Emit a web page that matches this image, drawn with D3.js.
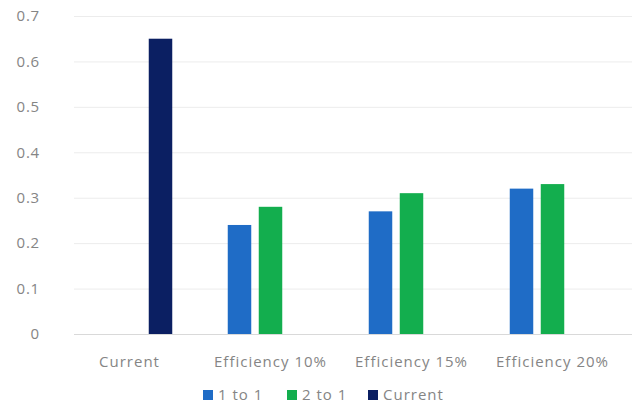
<!DOCTYPE html>
<html><head><meta charset="utf-8">
<script src="https://cdn.jsdelivr.net/npm/d3@7"></script>
<style>body{margin:0;background:#fff;}svg{display:block;font-family:"Open Sans",sans-serif;}</style>
</head><body><svg id="c" width="639" height="409"></svg>
<script>
const categories = ["Current", "Efficiency 10%", "Efficiency 15%", "Efficiency 20%"];
const seriesNames = ["1 to 1", "2 to 1", "Current"];
const oneToOne = [0, 0.24, 0.27, 0.32];
const twoToOne = [0, 0.28, 0.31, 0.33];
const current = [0.65, 0, 0, 0];
const yTicks = [0, 0.1, 0.2, 0.3, 0.4, 0.5, 0.6, 0.7];
const colors = ["#1F6CC6", "#13AE4E", "#0B1F62"];

const svg = d3.select("#c");
const x0 = d3.scaleBand().domain(categories).range([59, 623]).padding(0);
const x1 = d3.scaleBand().domain(seriesNames).range([-46.5, 46.5]).paddingInner(0.242).paddingOuter(0.121);
const y = d3.scaleLinear().domain([0, 0.7]).range([334, 16]);
const color = d3.scaleOrdinal().domain(seriesNames).range(colors);
const seriesVals = [oneToOne, twoToOne, current];
const txt = "#858585";

// gridlines
svg.append("g").selectAll("line").data(yTicks).join("line")
  .attr("x1", 74).attr("x2", 632)
  .attr("y1", d => y(d) + 0.5).attr("y2", d => y(d) + 0.5)
  .attr("stroke", d => d === 0 ? "#d9d9d9" : "#ececec").attr("stroke-width", 1);

// y labels
svg.append("g").selectAll("text").data(yTicks).join("text")
  .attr("x", 40).attr("y", d => y(d)).attr("dy", "0.35em")
  .attr("text-anchor", "end").attr("fill", txt).attr("font-size", 15)
  .attr("letter-spacing", 0.8)
  .text(d => d === 0 ? "0" : d3.format(".1f")(d));

// bars
const data = [];
categories.forEach((c, i) => seriesNames.forEach((s, j) => {
  if (seriesVals[j][i] > 0) data.push({c, s, v: seriesVals[j][i]});
}));
svg.append("g").selectAll("rect").data(data).join("rect")
  .attr("x", d => x0(d.c) + x0.bandwidth() / 2 + x1(d.s))
  .attr("width", x1.bandwidth())
  .attr("y", d => y(d.v)).attr("height", d => y(0) - y(d.v))
  .attr("fill", d => color(d.s));

// x labels
svg.append("g").selectAll("text").data(categories).join("text")
  .attr("x", d => x0(d) + x0.bandwidth() / 2).attr("y", 362).attr("dy", "0.35em")
  .attr("text-anchor", "middle").attr("fill", txt).attr("font-size", 15)
  .attr("letter-spacing", 1)
  .text(d => d);

// legend
const legX = [203, 287, 368];
const leg = svg.append("g").selectAll("g").data(seriesNames).join("g")
  .attr("transform", (d, i) => `translate(${legX[i]},395)`);
leg.append("rect").attr("x", 0).attr("y", -5).attr("width", 10).attr("height", 10).attr("fill", d => color(d));
leg.append("text").attr("x", 15).attr("y", 0).attr("dy", "0.35em")
  .attr("fill", txt).attr("font-size", 15).attr("letter-spacing", 1).text(d => d);
</script></body></html>
